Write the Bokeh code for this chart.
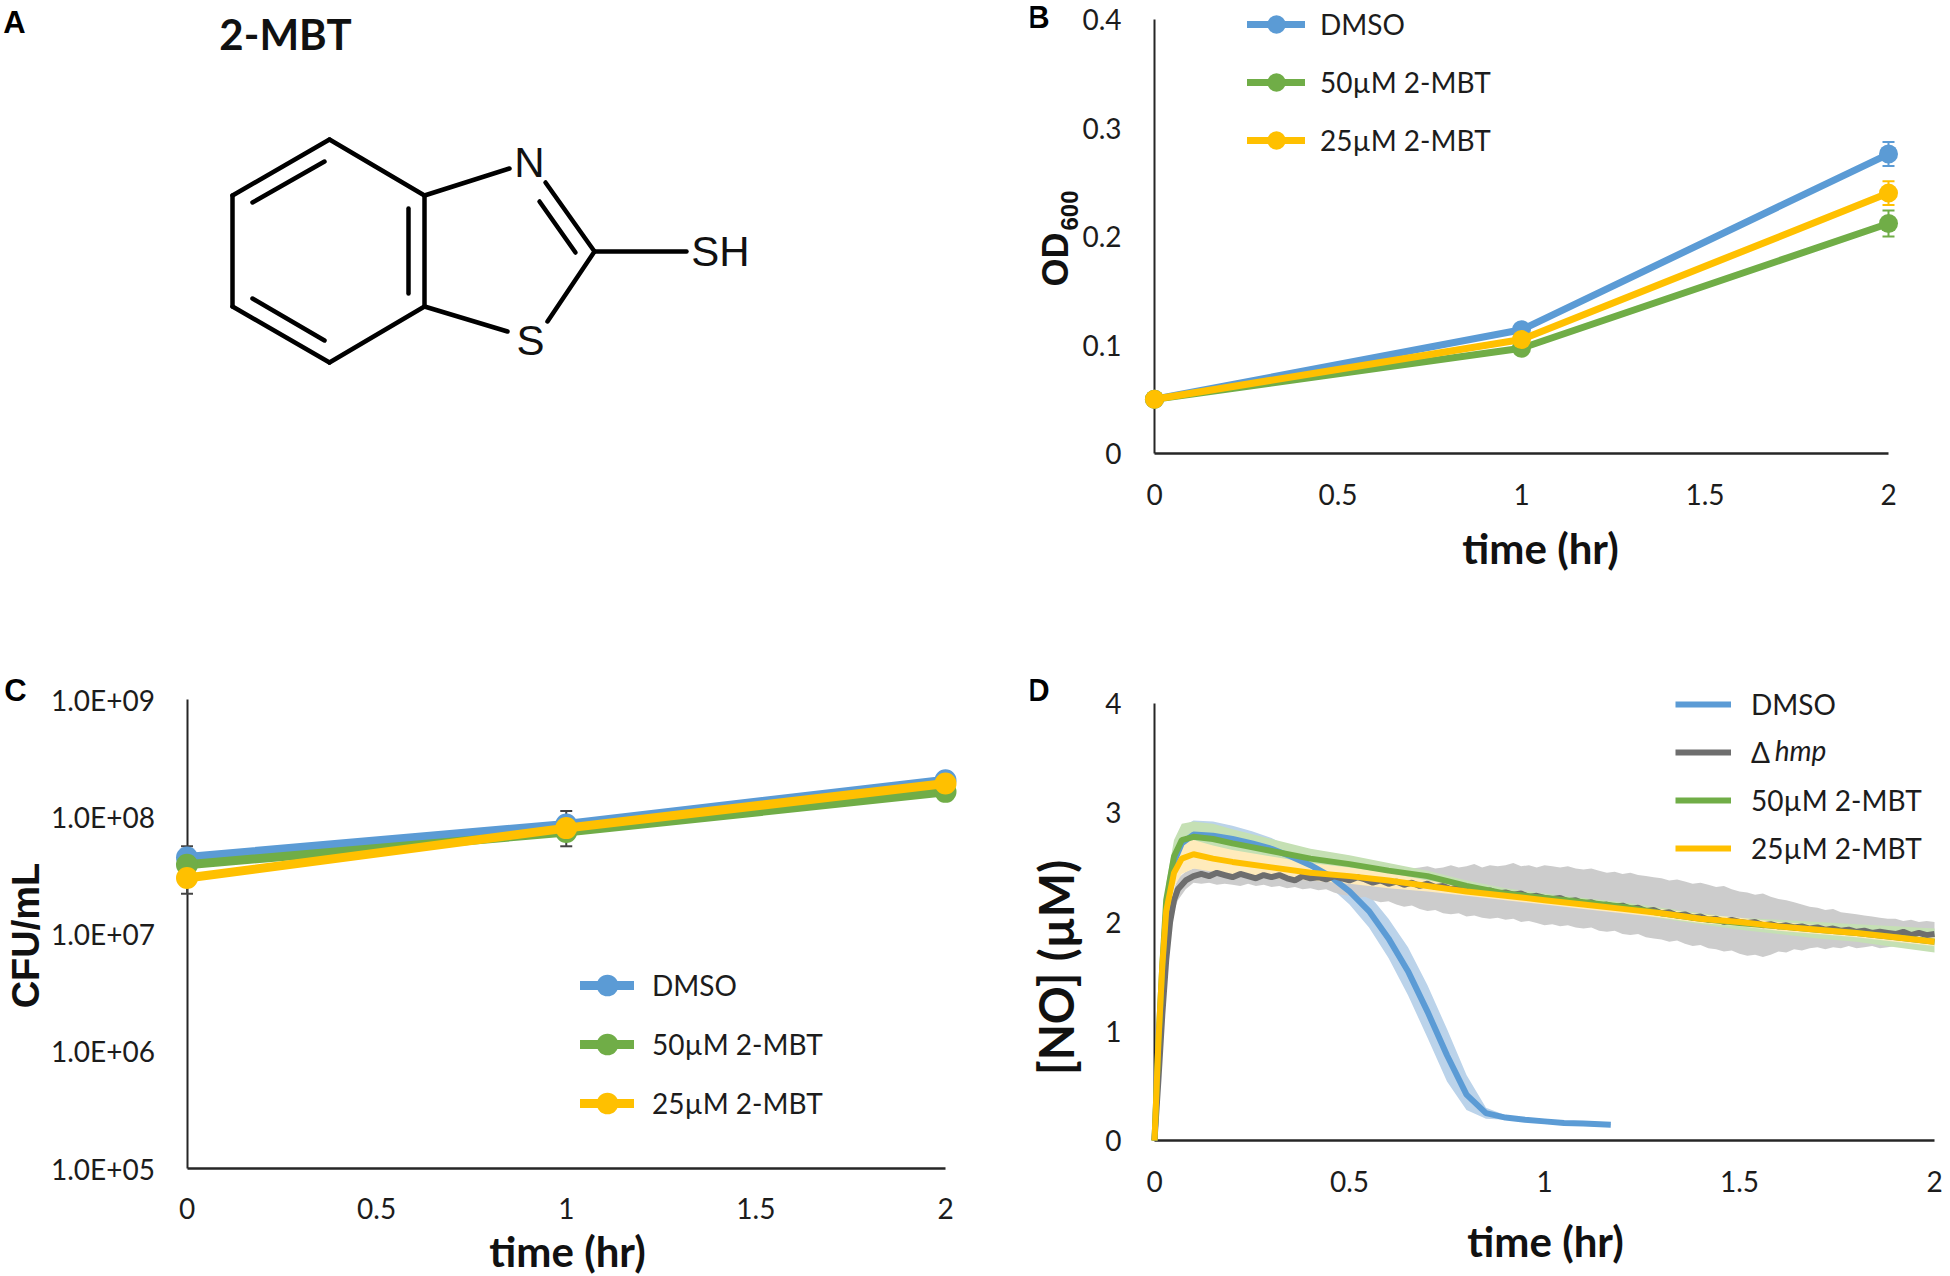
import math
from bokeh.plotting import figure
from bokeh.layouts import column, row
from bokeh.models import (Range1d, FixedTicker, Label, Legend, LegendItem, Whisker, TeeHead,
                          ColumnDataSource)
from bokeh.embed import file_html
from bokeh.resources import INLINE

BLUE, GREEN, YELLOW, GRAY = "#5B9BD5", "#70AD47", "#FFC000", "#6E6E6E"
BLUE_B, GREEN_B, YELLOW_B, GRAY_B = "#BBD3EA", "#C5E0B4", "#FFEBBB", "#CCCCCC"
INK = "#1c1c1c"

# Panel B
time_pts = [0, 1, 2]
od_dmso = [0.05, 0.114, 0.276]
od_50 = [0.05, 0.097, 0.212]
od_25 = [0.05, 0.105, 0.240]
od_dmso_err = [0.001, 0.004, 0.011]
od_50_err = [0.001, 0.003, 0.012]
od_25_err = [0.001, 0.004, 0.011]
od_ticks = [0, 0.1, 0.2, 0.3, 0.4]
od_tick_labels = ["0", "0.1", "0.2", "0.3", "0.4"]
time_ticks = [0, 0.5, 1, 1.5, 2]
time_tick_labels = ["0", "0.5", "1", "1.5", "2"]

# Panel C
cfu_dmso = [4.5e7, 8.6e7, 2.05e8]
cfu_50 = [3.9e7, 7.4e7, 1.63e8]
cfu_25 = [3.0e7, 8.0e7, 1.92e8]
cfu_err_upper = [5.6e7, 1.12e8, 2.2e8]
cfu_err_lower = [2.2e7, 5.6e7, 1.5e8]
cfu_ticks = [1e5, 1e6, 1e7, 1e8, 1e9]
cfu_tick_labels = ["1.0E+05", "1.0E+06", "1.0E+07", "1.0E+08", "1.0E+09"]

# Panel D
no_ticks = [0, 1, 2, 3, 4]
no_tick_labels = ["0", "1", "2", "3", "4"]
dmso_t = [0, .01, .02, .03, .05, .07, .1, .15, .2, .25, .3, .35, .4, .45, .5, .55, .6, .65, .7, .75, .8, .85, .9, .95, 1, 1.05, 1.1, 1.17]
dmso_mean = [0, .8, 1.5, 2.1, 2.55, 2.72, 2.8, 2.79, 2.76, 2.72, 2.67, 2.6, 2.52, 2.42, 2.28, 2.1, 1.85, 1.55, 1.18, .78, .42, .25, .21, .19, .175, .16, .155, .145]
dmso_up = [0, .85, 1.6, 2.25, 2.7, 2.87, 2.93, 2.92, 2.88, 2.83, 2.77, 2.68, 2.6, 2.52, 2.4, 2.25, 2.03, 1.77, 1.42, 1.02, .6, .3, .23, .2, .185, .17, .16, .15]
dmso_lo = [0, .75, 1.4, 1.95, 2.4, 2.57, 2.67, 2.66, 2.64, 2.61, 2.57, 2.52, 2.44, 2.32, 2.16, 1.95, 1.67, 1.33, .94, .54, .28, .2, .19, .18, .165, .15, .15, .14]

mbt_t = [0, .01, .02, .03, .05, .07, .1, .15, .2, .3, .4, .5, .6, .7, .8, .9, 1, 1.1, 1.2, 1.3, 1.4, 1.5, 1.6, 1.7, 1.8, 1.9, 2]
mbt50_mean = [0, .9, 1.6, 2.2, 2.6, 2.75, 2.78, 2.76, 2.72, 2.65, 2.58, 2.53, 2.47, 2.42, 2.33, 2.26, 2.22, 2.18, 2.14, 2.08, 2.03, 1.99, 1.96, 1.93, 1.9, 1.86, 1.82]
mbt50_up = [0, .95, 1.7, 2.35, 2.75, 2.9, 2.92, 2.9, 2.85, 2.76, 2.67, 2.61, 2.54, 2.47, 2.38, 2.31, 2.26, 2.22, 2.18, 2.13, 2.08, 2.04, 2.02, 2.0, 1.98, 1.96, 1.94]
mbt50_lo = [0, .85, 1.5, 2.05, 2.45, 2.6, 2.64, 2.62, 2.59, 2.54, 2.49, 2.45, 2.4, 2.37, 2.28, 2.21, 2.18, 2.14, 2.1, 2.03, 1.98, 1.93, 1.89, 1.85, 1.82, 1.77, 1.72]
mbt25_mean = [0, .9, 1.6, 2.1, 2.45, 2.58, 2.62, 2.58, 2.55, 2.5, 2.45, 2.42, 2.38, 2.33, 2.28, 2.24, 2.2, 2.16, 2.12, 2.08, 2.03, 2.0, 1.96, 1.93, 1.9, 1.86, 1.82]
mbt25_up = [0, .95, 1.7, 2.2, 2.58, 2.72, 2.75, 2.7, 2.66, 2.6, 2.54, 2.5, 2.45, 2.38, 2.32, 2.28, 2.24, 2.2, 2.16, 2.12, 2.07, 2.04, 2.0, 1.97, 1.94, 1.9, 1.86]
mbt25_lo = [0, .85, 1.5, 2.0, 2.32, 2.44, 2.49, 2.46, 2.44, 2.4, 2.38, 2.35, 2.31, 2.28, 2.24, 2.2, 2.16, 2.12, 2.08, 2.04, 1.99, 1.96, 1.92, 1.89, 1.86, 1.82, 1.78]

hmp_t = [0, .01, .02, .03, .04, .05, .06, .08,
         .10, .12, .14, .16, .18, .20, .22, .24, .26, .28,
         .30, .32, .34, .36, .38, .40, .42, .44, .46, .48,
         .50, .52, .54, .56, .58, .60, .62, .64, .66, .68,
         .70, .72, .74, .76, .78, .80, .82, .84, .86, .88,
         .90, .92, .94, .96, .98, 1.00, 1.02, 1.04, 1.06, 1.08,
         1.10, 1.12, 1.14, 1.16, 1.18, 1.20, 1.22, 1.24, 1.26, 1.28,
         1.30, 1.32, 1.34, 1.36, 1.38, 1.40, 1.42, 1.44, 1.46, 1.48,
         1.50, 1.52, 1.54, 1.56, 1.58, 1.60, 1.62, 1.64, 1.66, 1.68,
         1.70, 1.72, 1.74, 1.76, 1.78, 1.80, 1.82, 1.84, 1.86, 1.88,
         1.90, 1.92, 1.94, 1.96, 1.98, 2.00]
hmp_mean = [0, .55, 1.15, 1.65, 2.0, 2.2, 2.3, 2.38,
            2.42, 2.44, 2.42, 2.45, 2.43, 2.41, 2.44, 2.42, 2.40, 2.43,
            2.41, 2.43, 2.40, 2.38, 2.42, 2.40, 2.41, 2.39, 2.42, 2.40,
            2.38, 2.41, 2.39, 2.36, 2.38, 2.35, 2.37, 2.34, 2.36, 2.33,
            2.35, 2.32, 2.33, 2.30, 2.32, 2.29, 2.30, 2.27, 2.29, 2.26,
            2.27, 2.25, 2.26, 2.23, 2.24, 2.22, 2.21, 2.22, 2.19, 2.20,
            2.17, 2.18, 2.15, 2.16, 2.14, 2.15, 2.12, 2.13, 2.10, 2.11,
            2.08, 2.09, 2.06, 2.07, 2.04, 2.05, 2.02, 2.03, 2.00, 2.02,
            2.00, 1.99, 2.00, 1.97, 1.98, 1.96, 1.97, 1.95, 1.96, 1.94,
            1.95, 1.93, 1.94, 1.92, 1.93, 1.91, 1.92, 1.90, 1.91, 1.90,
            1.89, 1.91, 1.88, 1.90, 1.88, 1.89]
hmp_up = [0, .6, 1.25, 1.75, 2.1, 2.3, 2.4, 2.46,
          2.49, 2.50, 2.48, 2.49, 2.48, 2.47, 2.48, 2.47, 2.47, 2.46,
          2.46, 2.47, 2.45, 2.46, 2.47, 2.45, 2.46, 2.47, 2.48, 2.47,
          2.48, 2.47, 2.49, 2.48, 2.47, 2.49, 2.50, 2.48, 2.49, 2.50,
          2.51, 2.49, 2.50, 2.52, 2.50, 2.51, 2.53, 2.50, 2.52, 2.51,
          2.52, 2.54, 2.51, 2.52, 2.50, 2.52, 2.51, 2.50, 2.51, 2.49,
          2.48, 2.49, 2.47, 2.45, 2.46, 2.44, 2.45, 2.43, 2.42, 2.41,
          2.40, 2.38, 2.39, 2.37, 2.35, 2.36, 2.34, 2.32, 2.33, 2.30,
          2.28, 2.27, 2.25, 2.26, 2.23, 2.21, 2.20, 2.18, 2.16, 2.14,
          2.13, 2.11, 2.12, 2.09, 2.08, 2.07, 2.06, 2.05, 2.04, 2.03,
          2.03, 2.01, 2.02, 2.00, 2.01, 2.00]
hmp_lo = [0, .5, 1.05, 1.55, 1.9, 2.1, 2.2, 2.3,
          2.36, 2.35, 2.36, 2.34, 2.35, 2.34, 2.33, 2.35, 2.33, 2.34,
          2.32, 2.33, 2.31, 2.32, 2.30, 2.31, 2.29, 2.30, 2.27, 2.25,
          2.24, 2.22, 2.23, 2.20, 2.18, 2.19, 2.16, 2.14, 2.15, 2.12,
          2.10, 2.11, 2.08, 2.07, 2.08, 2.05, 2.06, 2.04, 2.03, 2.04,
          2.02, 2.03, 2.00, 2.01, 1.99, 1.97, 1.98, 1.96, 1.97, 1.95,
          1.94, 1.95, 1.92, 1.91, 1.92, 1.89, 1.88, 1.89, 1.86, 1.85,
          1.84, 1.82, 1.83, 1.80, 1.78, 1.79, 1.76, 1.75, 1.73, 1.74,
          1.71, 1.69, 1.70, 1.68, 1.70, 1.73, 1.72, 1.75, 1.74, 1.76,
          1.77, 1.75, 1.77, 1.76, 1.78, 1.76, 1.77, 1.78, 1.76, 1.77,
          1.78, 1.77, 1.79, 1.78, 1.78, 1.79]

# Panel A: structure of 2-mercaptobenzothiazole, bonds as start and end points
bond_x0 = [329, 424, 424, 329, 232, 232, 252, 252, 408, 424, 545, 539, 594, 594, 424]
bond_y0 = [139, 195, 306, 362, 306, 195, 202, 298, 208, 195, 182, 201, 251, 251, 306]
bond_x1 = [424, 424, 329, 232, 232, 329, 324, 324, 408, 509, 594, 575, 686, 547, 507]
bond_y1 = [195, 306, 362, 306, 195, 139, 161, 340, 293, 168, 251, 252, 251, 321, 331]
atom_x = [529, 530, 720]
atom_y = [162, 340, 251]
atom_names = ["N", "S", "SH"]

LEFT_W, RIGHT_W = 1030, 918
TOP_H, BOT_H = 640, 636


def panel(org_x, org_y, w, h, x0_px, x2_px, top_px, bot_px, ymin, ymax, log=False):
    """A figure whose frame fills its canvas; the axes sit on the data origin inside it."""
    unit = (x2_px - x0_px) / 2

    def px2x(px):
        return (px - x0_px) / unit

    def py2y(py):
        f = (bot_px - py) / (bot_px - top_px)
        if log:
            return 10 ** (math.log10(ymin) + f * (math.log10(ymax) - math.log10(ymin)))
        return ymin + f * (ymax - ymin)

    p = figure(width=w, height=h, x_range=Range1d(px2x(org_x), px2x(org_x + w)),
               y_range=Range1d(py2y(org_y + h), py2y(org_y)),
               y_axis_type="log" if log else "linear", output_backend="svg", toolbar_location=None,
               min_border=0)
    p.grid.visible = False
    p.outline_line_color = None
    xa, ya = p.xaxis[0], p.yaxis[0]
    for ax in (xa, ya):
        ax.major_tick_line_color = None
        ax.minor_tick_line_color = None
        ax.major_label_text_font = "Lato"
        ax.major_label_text_font_size = "28px"
        ax.major_label_text_color = INK
        ax.axis_line_color = "#262626"
        ax.level = "underlay"
    ya.axis_line_width = 2
    xa.axis_line_width = 2.5
    xa.fixed_location = ymin
    ya.fixed_location = 0
    xa.bounds = (0, 2)
    ya.bounds = (ymin, ymax)
    xa.ticker = FixedTicker(ticks=time_ticks)
    xa.major_label_overrides = dict(zip(time_ticks, time_tick_labels))
    xa.major_label_standoff = 24
    ya.major_label_standoff = 27

    def text(px, py, s, size, font="Liberation Sans", style="normal", rot=0, color="#111111"):
        p.add_layout(Label(x=px2x(px), y=py2y(py), text=s, text_font=font, text_font_style=style,
                           text_font_size=f"{size}px", text_align="center", text_baseline="middle",
                           angle=rot, angle_units="deg", text_color=color))
    return p, text


def legend(p, items, x, y, width, gh, spacing, standoff=15):
    lg = Legend(items=items, location=(x, y), margin=0, padding=0, spacing=spacing, border_line_color=None,
                background_fill_alpha=0, glyph_width=width, glyph_height=gh, label_height=gh,
                label_standoff=standoff, label_text_font="Lato", label_text_font_size="28px", label_text_color=INK)
    p.add_layout(lg)


def curves(p, x, series, lw, ms):
    items = []
    for name, ys, col in series:
        l = p.line(x, ys, line_color=col, line_width=lw, line_cap="round")
        c = p.scatter(x, ys, size=ms, fill_color=col, line_color=col, line_width=0)
        items.append(LegendItem(label=name, renderers=[l, c]))
    return items


# ------------------ A
a = figure(width=LEFT_W, height=TOP_H, x_range=Range1d(0, LEFT_W), y_range=Range1d(TOP_H, 0),
           output_backend="svg", toolbar_location=None, min_border=0,
           x_axis_location=None, y_axis_location=None)
a.grid.visible = False
a.outline_line_color = None
a.segment(bond_x0, bond_y0, bond_x1, bond_y1, line_color="black", line_width=4.5, line_cap="round")
for ax_, ay_, nm in zip(atom_x, atom_y, atom_names):
    a.add_layout(Label(x=ax_, y=ay_, text=nm, text_font="Liberation Sans", text_font_size="42px",
                       text_align="center", text_baseline="middle", text_color="#111111"))
a.add_layout(Label(x=14, y=22, text="A", text_font="Liberation Sans", text_font_style="bold",
                   text_font_size="31px", text_align="center", text_baseline="middle", text_color="black"))
a.add_layout(Label(x=285, y=33, text="2-MBT", text_font="Lato", text_font_style="bold",
                   text_font_size="42px", text_align="center", text_baseline="middle", text_color="#111111"))

# ------------------ B
b, tb = panel(1030, 0, RIGHT_W, TOP_H, 1154, 1888, 19, 453, 0, 0.4)
b.yaxis[0].ticker = FixedTicker(ticks=od_ticks)
b.yaxis[0].major_label_overrides = dict(zip(od_ticks, od_tick_labels))
for ys, es, col in [(od_dmso, od_dmso_err, BLUE), (od_50, od_50_err, GREEN), (od_25, od_25_err, YELLOW)]:
    src = ColumnDataSource(dict(x=time_pts, u=[v + e for v, e in zip(ys, es)], l=[v - e for v, e in zip(ys, es)]))
    b.add_layout(Whisker(base="x", upper="u", lower="l", source=src, line_color=col, line_width=2,
                         upper_head=TeeHead(size=12, line_color=col, line_width=2),
                         lower_head=TeeHead(size=12, line_color=col, line_width=2)))
items = curves(b, time_pts, [("DMSO", od_dmso, BLUE), ("50µM 2-MBT", od_50, GREEN), ("25µM 2-MBT", od_25, YELLOW)], 7, 19)
legend(b, items, 1247 - 1030, TOP_H - 163, 58, 46, 12)
tb(1038, 17, "B", 31, style="bold", color="black")
tb(1055, 259, "OD", 36, style="bold", rot=90)
tb(1069, 210, "600", 24, style="bold", rot=90)
tb(1540, 547, "time (hr)", 42, font="Lato", style="bold")

# ------------------ C
c, tc = panel(0, 640, LEFT_W, BOT_H, 186.5, 945, 699, 1168, 1e5, 1e9, log=True)
c.yaxis[0].ticker = FixedTicker(ticks=cfu_ticks)
c.yaxis[0].major_label_overrides = dict(zip(cfu_ticks, cfu_tick_labels))
c.yaxis[0].major_label_standoff = 26
c.xaxis[0].major_label_standoff = 23
src = ColumnDataSource(dict(x=time_pts, u=cfu_err_upper, l=cfu_err_lower))
c.add_layout(Whisker(base="x", upper="u", lower="l", source=src, line_color="#444444", line_width=2,
                     upper_head=TeeHead(size=12, line_color="#444444", line_width=2),
                     lower_head=TeeHead(size=12, line_color="#444444", line_width=2)))
items = curves(c, time_pts, [("DMSO", cfu_dmso, BLUE), ("50µM 2-MBT", cfu_50, GREEN), ("25µM 2-MBT", cfu_25, YELLOW)], 9, 22)
legend(c, items, 580, 640 + BOT_H - 1130, 54, 54, 5, standoff=18)
tc(15, 690, "C", 31, style="bold", color="black")
tc(25, 935, "CFU/mL", 38, style="bold", rot=90)
tc(567, 1250, "time (hr)", 42, font="Lato", style="bold")

# ------------------ D
d, td = panel(1030, 640, RIGHT_W, BOT_H, 1154, 1934, 703, 1140, 0, 4)
d.yaxis[0].ticker = FixedTicker(ticks=no_ticks)
d.yaxis[0].major_label_overrides = dict(zip(no_ticks, no_tick_labels))
d.varea(dmso_t, dmso_lo, dmso_up, fill_color=BLUE_B)
d.varea(hmp_t, hmp_lo, hmp_up, fill_color=GRAY_B)
d.varea(mbt_t, mbt50_lo, mbt50_up, fill_color=GREEN_B)
d.varea(mbt_t, mbt25_lo, mbt25_up, fill_color=YELLOW_B)
l1 = d.line(dmso_t, dmso_mean, line_color=BLUE, line_width=6)
l2 = d.line(hmp_t, hmp_mean, line_color=GRAY, line_width=6)
l3 = d.line(mbt_t, mbt50_mean, line_color=GREEN, line_width=6)
l4 = d.line(mbt_t, mbt25_mean, line_color=YELLOW, line_width=6)
legend(d, [LegendItem(label="DMSO", renderers=[l1]), LegendItem(label="Δ", renderers=[l2]),
           LegendItem(label="50µM 2-MBT", renderers=[l3]), LegendItem(label="25µM 2-MBT", renderers=[l4])],
       1675 - 1030, 640 + BOT_H - 865, 56, 30, 14, standoff=20)
td(1038, 690, "D", 31, style="bold", color="black")
td(1055, 967, "[NO] (µM)", 47, font="Lato", style="bold", rot=90)
td(1800, 749, "hmp", 28, font="Lato", style="italic", color=INK)
td(1545, 1240, "time (hr)", 42, font="Lato", style="bold")

layout = column(row(a, b, spacing=0), row(c, d, spacing=0), spacing=0)
open("out.html", "w").write(file_html(layout, INLINE))
